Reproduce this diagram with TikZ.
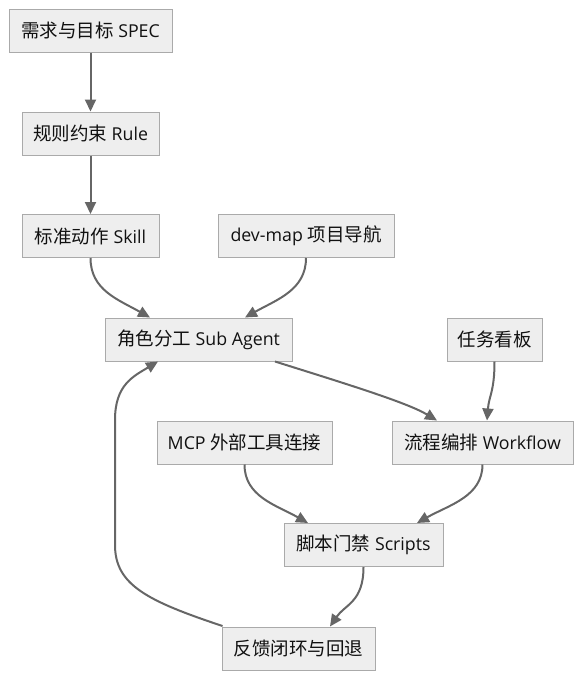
\documentclass[tikz,border=0pt]{standalone}
\usepackage{fontspec}
\setmainfont{Open Sans}[Scale=0.96]
\newfontfamily\cjk{Noto Sans CJK SC}
\usetikzlibrary{arrows.meta}
\definecolor{boxfill}{HTML}{EEEEEE}
\definecolor{boxdraw}{HTML}{AAAAAA}
\definecolor{edgecol}{HTML}{666666}
\definecolor{txt}{HTML}{111111}
\begin{document}
\begin{tikzpicture}[x=1pt,y=-1pt,
  box/.style={draw=boxdraw,fill=boxfill,line width=1pt,minimum height=43pt,inner sep=0pt,
    text=txt,font=\fontsize{18.5pt}{21pt}\selectfont,anchor=center},
  edge/.style={draw=edgecol,line width=2pt,-{Triangle[length=12pt,width=11pt]}}]
\useasboundingbox (0,0) rectangle (582,680);
\node[box,minimum width=163pt] (spec) at (90.5,30.5) {{\cjk 需求与目标} SPEC};
\node[box,minimum width=137pt] (rule) at (90.5,133.5) {{\cjk 规则约束} Rule};
\node[box,minimum width=137pt] (skill) at (90.5,236) {{\cjk 标准动作} Skill};
\node[box,minimum width=176pt] (devmap) at (306,236) {dev-map {\cjk 项目导航}};
\node[box,minimum width=187pt] (sub) at (198.5,339.5) {{\cjk 角色分工} Sub Agent};
\node[box,minimum width=95pt] (task) at (494.5,339.5) {{\cjk 任务看板}};
\node[box,minimum width=175pt] (mcp) at (244.5,442.5) {MCP {\cjk 外部工具连接}};
\node[box,minimum width=181pt] (wf) at (482.5,442.5) {{\cjk 流程编排} Workflow};
\node[box,minimum width=159pt] (scr) at (363.5,545) {{\cjk 脚本门禁} Scripts};
\node[box,minimum width=153pt] (fb) at (298.5,648.5) {{\cjk 反馈闭环与回退}};
\coordinate (fbA) at (115,545);
\coordinate (fbB) at (115,420);
\draw[edge] (spec.south) -- (rule.north);
\draw[edge] (rule.south) -- (skill.north);
\draw[edge] (skill.south) .. controls +(0,32) and +(-32,-18) .. ([xshift=-48.5pt]sub.north);
\draw[edge] (devmap.south) .. controls +(0,32) and +(32,-18) .. ([xshift=46.5pt]sub.north);
\draw[edge] ([xshift=76.5pt]sub.south) .. controls +(70,22) and +(-30,-18) .. ([xshift=-45.5pt]wf.north);
\draw[edge] (task.south) .. controls +(0,30) and +(2,-25) .. ([xshift=4.5pt]wf.north);
\draw[edge] (mcp.south) .. controls +(0,32) and +(-32,-18) .. ([xshift=-55.5pt]scr.north);
\draw[edge] (wf.south) .. controls +(0,32) and +(32,-18) .. ([xshift=53.5pt]scr.north);
\draw[edge] (scr.south) .. controls +(0,35) and +(15,-22) .. ([xshift=31.5pt]fb.north);
\draw[edge] ([xshift=-76pt,yshift=0.5pt]fb.north) .. controls +(-75,-25) and +(0,40) .. (fbA) -- (fbB) .. controls +(0,-35) and +(-25,15) .. ([xshift=-40.5pt]sub.south);
\end{tikzpicture}
\end{document}
